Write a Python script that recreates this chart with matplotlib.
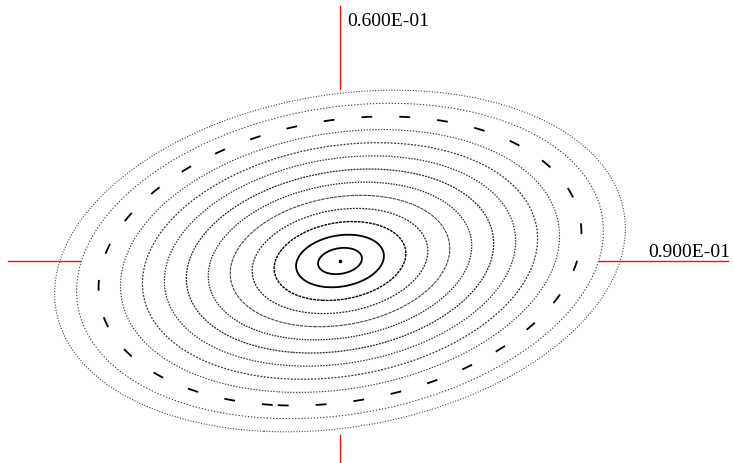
import numpy as np
import matplotlib.pyplot as plt

# centre of the field, also printed on the cross hairs
x0 = 0.06
y0 = 0.09
x_label = "0.600E-01"
y_label = "0.900E-01"

# quadratic form: step between rings along x and y, and the x-y coupling
step_x = 0.002155
step_y = 0.00129
coupling = 0.19

# contour levels (in ring steps)
levels = [1, 2, 3, 4, 5, 6, 7, 8, 9, 10, 11, 12, 13]

# one line pattern per ring, inner to outer
ring_styles = [
    "solid", "solid", (0, (2, 0.7)), (0, (1.5, 1)), (0, (3, 0.8)),
    (0, (1.2, 1)), (0, (1.5, 0.9)), (0, (1.2, 1.1)), (0, (1.5, 1.2)), (0, (1.2, 1.4)),
    (0, (6, 15)), (0, (1.2, 1.8)), (0, (1, 1.6)),
]
ring_widths = [1.3, 1.3, 1.0, 0.9, 0.8, 0.9, 0.9, 0.9, 0.9, 0.8, 1.3, 0.75, 0.75]
ring_colors = ["black", "black", "black", "#222222", "#444444", "#222222",
               "#222222", "#333333", "#333333", "#333333", "black", "#333333", "#333333"]

fig = plt.figure(figsize=(7.34, 4.64), dpi=100)
ax = fig.add_axes([0, 0, 1, 1])
ax.set_xlim(0.026, 0.0994)
ax.set_ylim(0.0698, 0.1162)
ax.axis("off")

xs = np.linspace(0.026, 0.0994, 900)
ys = np.linspace(0.0698, 0.1162, 600)
X, Y = np.meshgrid(xs, ys)
u = (X - x0) / step_x
v = (Y - y0) / step_y
R = np.sqrt(u**2 - 2 * coupling * u * v + v**2)

ax.contour(X, Y, R, levels=levels, colors=ring_colors,
           linestyles=ring_styles, linewidths=ring_widths)
ax.plot([x0], [y0], marker="o", markersize=1.6, color="black")

# red cross hairs through the centre
red = "#ee1111"
ax.plot([x0, x0], [0.1155, 0.1072], color=red, lw=1)
ax.plot([x0, x0], [0.0726, 0.0690], color=red, lw=1)
ax.plot([0.0268, 0.0340], [y0, y0], color=red, lw=1)
ax.plot([0.0859, 0.0988], [y0, y0], color=red, lw=1)

ax.text(x0 + 0.0007, 0.1136, x_label, family="Liberation Serif",
        fontsize=14, va="baseline", ha="left")
ax.text(0.0908, y0 + 0.0005, y_label, family="Liberation Serif",
        fontsize=14, va="baseline", ha="left")

fig.savefig("out.png", dpi=100)
